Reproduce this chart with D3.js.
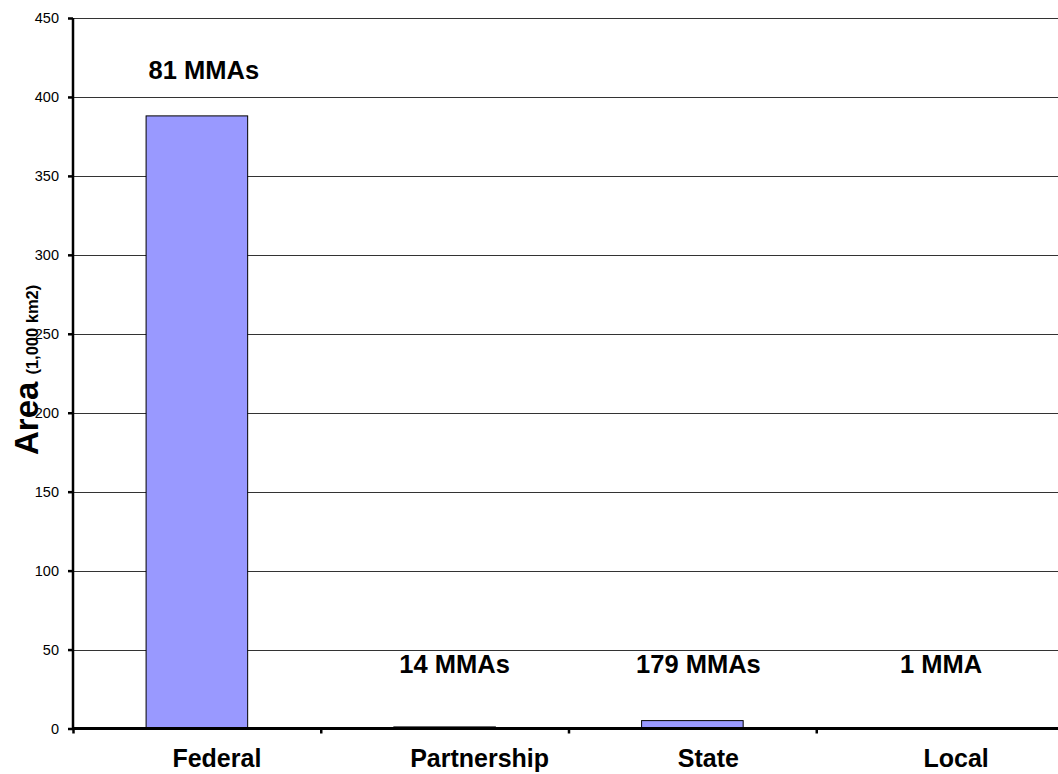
<!DOCTYPE html>
<html><head><meta charset="utf-8">
<script src="https://cdn.jsdelivr.net/npm/d3@7"></script>
<style>body{margin:0;background:#fff}svg{display:block}text{font-family:"Liberation Sans",Arial,sans-serif}</style>
</head><body><svg id="c" width="1058" height="774"></svg>
<script>
const categories = ["Federal", "Partnership", "State", "Local"];
const areaValues = [388, 1, 5, 0];
const countLabels = ["81 MMAs", "14 MMAs", "179 MMAs", "1 MMA"];
const yTicks = [0, 50, 100, 150, 200, 250, 300, 350, 400, 450];

// layout nudges (pixels) for the text labels, as placed in the original
const catLabelNudge = [20, 35, 16, 16];
const countLabelNudge = [7, 10, 6, 1];

const svg = d3.select("#c");
const x = d3.scaleBand().domain(categories).range([73, 1064]).paddingInner(0).paddingOuter(0);
const y = d3.scaleLinear().domain([0, 450]).range([728.5, 18]);
const barW = x.bandwidth() * 0.41;

// gridlines
svg.append("g").selectAll("line").data(yTicks.filter(d => d > 0)).join("line")
  .attr("x1", 73).attr("x2", 1058).attr("y1", d => Math.round(y(d)) + 0.5).attr("y2", d => Math.round(y(d)) + 0.5)
  .attr("stroke", "#333").attr("stroke-width", 1);

// bars
svg.append("g").selectAll("rect").data(categories).join("rect")
  .attr("x", d => x(d) + x.bandwidth() / 2 - barW / 2)
  .attr("width", barW)
  .attr("y", (d, i) => y(areaValues[i]))
  .attr("height", (d, i) => y(0) - y(areaValues[i]))
  .attr("fill", "#9999FF").attr("stroke", "#000").attr("stroke-width", 1);

// y axis
const ya = svg.append("g").attr("transform", "translate(73,0)")
  .call(d3.axisLeft(y).tickValues(yTicks).tickSize(5).tickPadding(9).tickFormat(d3.format("d")));
ya.select(".domain").attr("stroke", "#000").attr("stroke-width", 2.5).attr("d", `M0,${y(450)}V${y(0)+1}`);
ya.selectAll(".tick line").attr("stroke", "#000").attr("stroke-width", 2.5);
ya.selectAll(".tick text").attr("font-size", 14.5).attr("fill", "#000").attr("font-family", "Liberation Sans, Arial, sans-serif");

// x axis
const xa = svg.append("g").attr("transform", `translate(0,${y(0)})`)
  .call(d3.axisBottom(x).tickSize(0).tickFormat(""));
xa.select(".domain").attr("stroke", "#000").attr("stroke-width", 3).attr("d", "M73,0H1058");
xa.selectAll(".tick").remove();
svg.append("g").selectAll("line").data(categories).join("line")
  .attr("x1", d => x(d) + 0.5).attr("x2", d => x(d) + 0.5)
  .attr("y1", y(0)).attr("y2", y(0) + 5).attr("stroke", "#000").attr("stroke-width", 2.5);

// category labels
svg.append("g").selectAll("text").data(categories).join("text")
  .attr("x", (d, i) => x(d) + x.bandwidth() / 2 + catLabelNudge[i]).attr("y", 767)
  .attr("text-anchor", "middle").attr("font-size", 25).attr("font-weight", "bold").text(d => d);

// count labels
svg.append("g").selectAll("text").data(categories).join("text")
  .attr("x", (d, i) => x(d) + x.bandwidth() / 2 + countLabelNudge[i])
  .attr("y", (d, i) => i === 0 ? 79 : 673)
  .attr("text-anchor", "middle").attr("font-size", 25.5).attr("font-weight", "bold").text((d, i) => countLabels[i]);

// y title
const t = svg.append("text").attr("transform", "translate(38,455) rotate(-90)").attr("font-weight", "bold");
t.append("tspan").attr("font-size", 33).text("Area");
t.append("tspan").attr("font-size", 16.5).attr("dx", 7).text("(1,000 km2)");
</script></body></html>
